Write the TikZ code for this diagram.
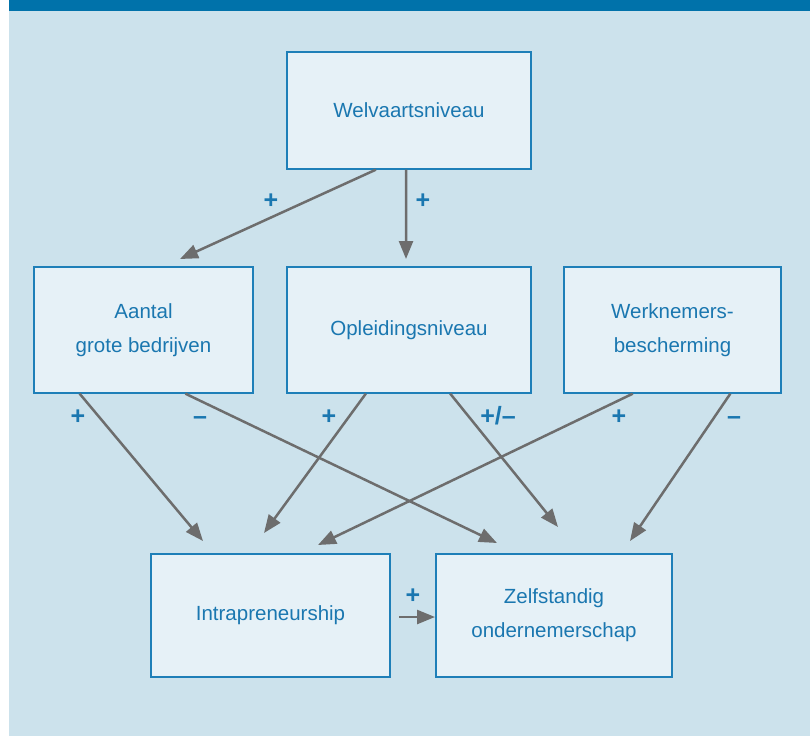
\documentclass[tikz,border=0pt]{standalone}
\usepackage{fontspec}
\setmainfont{Liberation Sans}
\usetikzlibrary{arrows.meta,calc}
\definecolor{bglight}{HTML}{CCE2EC}
\definecolor{band}{HTML}{0072AA}
\definecolor{boxfill}{HTML}{E6F1F7}
\definecolor{boxline}{HTML}{1E7FB8}
\definecolor{txt}{HTML}{1A77B0}
\definecolor{arr}{HTML}{6D6D6D}
\tikzset{
  factor/.style={draw=boxline, line width=1.3pt, fill=boxfill, rectangle,
    text=txt, align=center, font=\fontsize{20.5}{34}\selectfont, inner sep=0pt},
  link/.style={draw=arr, line width=2.5pt, -{Triangle[length=18pt,width=14pt]}},
  sign/.style={text=txt, font=\fontsize{25}{26}\selectfont\bfseries, inner sep=0pt, anchor=base}
}
\begin{document}
\begin{tikzpicture}[x=1pt,y=-1pt]
\useasboundingbox (0,0) rectangle (810,736);
\fill[white] (0,0) rectangle (810,736);
\fill[bglight] (9,0) rectangle (810,736);
\fill[band] (9,0) rectangle (810,10.5);

\node[factor, minimum width=244pt, minimum height=117pt] (welv) at (409,110.5) {Welvaartsniveau};
\node[factor, minimum width=219pt, minimum height=126pt] (aant) at (143.5,330) {Aantal\\grote bedrijven};
\node[factor, minimum width=244pt, minimum height=126pt] (opl) at (409,330) {Opleidingsniveau};
\node[factor, minimum width=217pt, minimum height=126pt] (werk) at (672.5,330) {Werknemers-\\bescherming};
\node[factor, minimum width=239pt, minimum height=123pt] (intra) at (270.5,615.5) {Intrapreneurship};
\node[factor, minimum width=236pt, minimum height=123pt] (zelf) at (554,615.5) {Zelfstandig\\ondernemerschap};

\coordinate (e1) at (180,259);
\coordinate (e2) at (406,259);
\coordinate (e3) at (203,541);
\coordinate (e4) at (497,543);
\coordinate (e5) at (264,533);
\coordinate (e6) at (558,527);
\coordinate (e7) at (318,545);
\coordinate (e8) at (630,541);
\coordinate (s9) at (399,617);
\coordinate (e9) at (435,617);

\draw[link] ($(welv.south west)!0.365!(welv.south east)$) -- (e1);
\draw[link] ($(welv.south west)!0.488!(welv.south east)$) -- (e2);
\draw[link] ($(aant.south west)!0.21!(aant.south east)$) -- (e3);
\draw[link] ($(aant.south west)!0.69!(aant.south east)$) -- (e4);
\draw[link] ($(opl.south west)!0.324!(opl.south east)$) -- (e5);
\draw[link] ($(opl.south west)!0.668!(opl.south east)$) -- (e6);
\draw[link] ($(werk.south west)!0.318!(werk.south east)$) -- (e7);
\draw[link] ($(werk.south west)!0.765!(werk.south east)$) -- (e8);
\draw[link] (s9) -- (e9);

\node[sign] (l1) at (271,208) {+};
\node[sign] (l2) at (423,208) {+};
\node[sign] (l3) at (78,424) {+};
\node[sign] (l4) at (200,424) {–};
\node[sign] (l5) at (329,424) {+};
\node[sign] (l6) at (498,424) {+/–};
\node[sign] (l7) at (619,424) {+};
\node[sign] (l8) at (734,424) {–};
\node[sign] (l9) at (413,603) {+};
\end{tikzpicture}
\end{document}
